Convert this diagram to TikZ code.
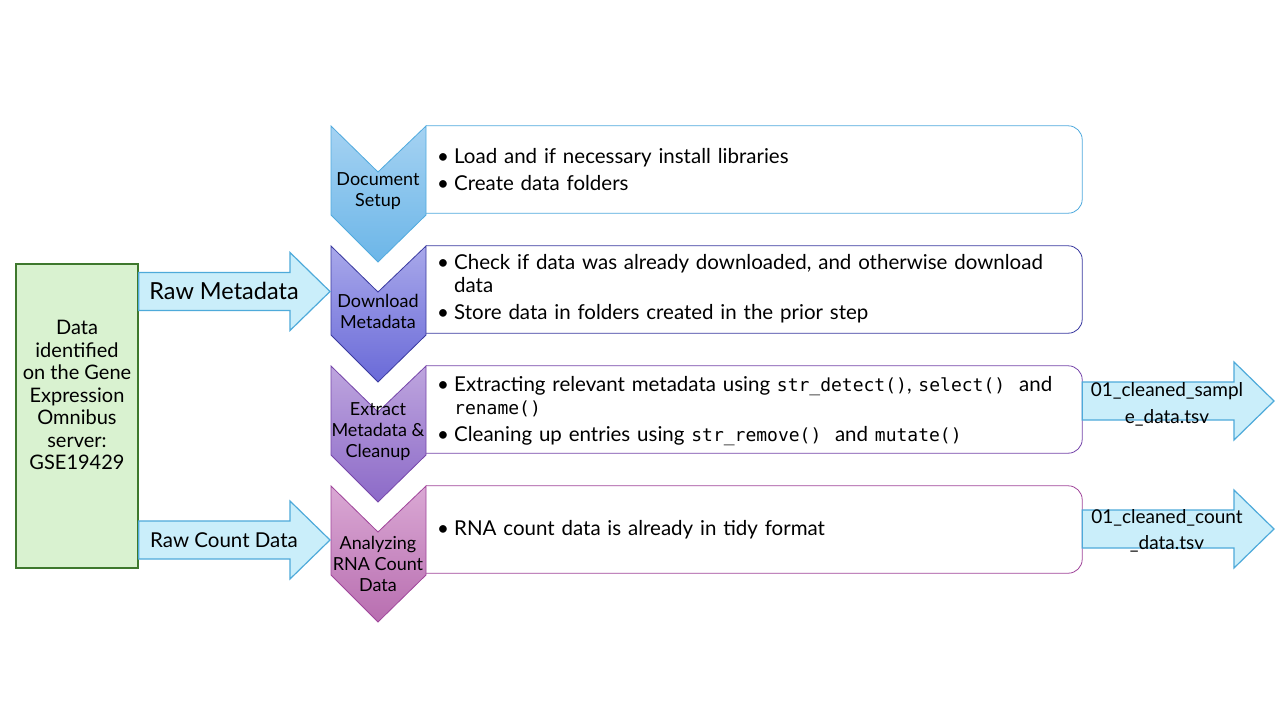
\documentclass[tikz,border=0pt]{standalone}
\usepackage{fontspec}
\setmainfont{Lato}
\setmonofont{DejaVu Sans Mono}
\usetikzlibrary{positioning,calc}
\definecolor{setuptop}{RGB}{165,210,242}
\definecolor{setupbot}{RGB}{108,182,232}
\definecolor{setupline}{RGB}{80,170,222}
\definecolor{loadtop}{RGB}{168,168,234}
\definecolor{loadbot}{RGB}{106,106,216}
\definecolor{loadline}{RGB}{58,58,160}
\definecolor{extracttop}{RGB}{190,165,222}
\definecolor{extractbot}{RGB}{140,106,200}
\definecolor{extractline}{RGB}{118,70,170}
\definecolor{counttop}{RGB}{218,168,212}
\definecolor{countbot}{RGB}{184,110,176}
\definecolor{countline}{RGB}{160,70,155}
\definecolor{arrowfill}{RGB}{202,238,250}
\definecolor{arrowline}{RGB}{78,170,218}
\definecolor{geofill}{RGB}{217,242,208}
\definecolor{geoline}{RGB}{62,120,45}
\newcommand{\bul}[1]{\par\noindent\hangindent=17pt\hangafter=1\makebox[17pt][l]{\textbullet}#1}
\newcommand{\code}[1]{{\ttfamily\fontsize{18}{23}\selectfont #1}}
\newcommand{\blockarrow}[2]{%
  \draw[blockarrow] ($(#1)+(0,-19)$) -- ($(#2)+(-40,-19)$) -- ($(#2)+(-40,-39)$) -- (#2)
    -- ($(#2)+(-40,39)$) -- ($(#2)+(-40,19)$) -- ($(#1)+(0,19)$) -- cycle;}
\tikzset{
  stepbox/.style={minimum width=656pt,minimum height=87pt,inner sep=0pt},
  boxline/.style={line width=0.8pt,rounded corners=14pt},
  bullets/.style={anchor=west,inner sep=0pt,text width=636pt,align=left,font=\fontsize{20.5}{23}\selectfont\setlength{\parskip}{4pt}},
  steplabel/.style={align=center,inner sep=0pt,font=\fontsize{18}{21}\selectfont},
  blockarrow/.style={draw=arrowline,fill=arrowfill,line width=1.2pt,line join=miter},
}

\begin{document}
\begin{tikzpicture}[x=1pt,y=-1pt]
\useasboundingbox (0,0) rectangle (1280,720);
\fill[white] (0,0) rectangle (1280,720);
% text boxes, left side hidden by the chevrons
\foreach \n/\y in {setup/126,load/246,extract/366,count/486}{
  \node[stepbox] (\n box) at (754,\y+43.5) {};
  \draw[boxline,draw=\n line] (\n box.north west) -- (\n box.north east) -- (\n box.south east) -- (\n box.south west);
}
% chevrons
\foreach \n/\y in {setup/126,load/246,extract/366,count/486}{
  \draw[draw=\n line,top color=\n top,bottom color=\n bot,line width=0.8pt]
    (331,\y) -- (378,\y+46) -- (426,\y) -- (426,\y+89) -- (378,\y+136) -- (331,\y+89) -- cycle;
}
\node[steplabel] (setuplbl) at (378,191) {Document\\Setup};
\node[steplabel] (loadlbl) at (378,311.5) {Download\\Metadata};
\node[steplabel] (extractlbl) at (378,432) {Extract\\Metadata \&\\Cleanup};
\node[steplabel] (countlbl) at (378,564) {Analyzing\\RNA Count\\Data};
% bullet texts
\node[bullets] (setuptxt) at (437,164) {\bul{Load and if necessary install libraries}\bul{Create data folders}};
\node[bullets] (loadtxt) at (437,283) {\bul{Check if data was already downloaded, and otherwise download\newline data}\bul{Store data in folders\ created in the prior step}};
\node[bullets] (extracttxt) at (437,405) {\bul{Extracting relevant metadata using \code{str\_detect()}, \code{select()}\hspace{14pt}and\newline \code{rename()}}\bul{Cleaning up entries using \code{str\_remove()}\ \ and \code{mutate()}}};
\node[bullets] (counttxt) at (437,523.5) {\bul{RNA count data is already in tidy format}};
% data source
\node[draw=geoline,fill=geofill,line width=1.5pt,minimum width=122pt,minimum height=304pt] (geo) at (77,416) {};
\node[align=center,inner sep=0pt,font=\fontsize{20}{22.5}\selectfont] (geotxt) at (77,395) {Data\\identified\\on the Gene\\Expression\\Omnibus\\server:\\GSE19429};
% block arrows
\coordinate (metatip) at (330,291.5);
\coordinate (rawtip) at (330,540);
\coordinate (sampletip) at (1274,401);
\coordinate (counttip) at (1274,529);
\blockarrow{geo.east |- metatip}{metatip}
\blockarrow{geo.east |- rawtip}{rawtip}
\blockarrow{extractbox.east |- sampletip}{sampletip}
\blockarrow{countbox.east |- counttip}{counttip}
\node[font=\fontsize{23.5}{26}\selectfont,inner sep=0pt] (metalbl) at (224,291) {Raw Metadata};
\node[font=\fontsize{20.5}{24}\selectfont,inner sep=0pt] (rawlbl) at (224,540) {Raw Count Data};
\node[align=center,inner sep=0pt,font=\fontsize{19}{27}\selectfont] (samplelbl) at (1167,404) {01\_cleaned\_sampl\\e\_data.tsv};
\node[align=center,inner sep=0pt,font=\fontsize{19}{26}\selectfont] (countfilelbl) at (1167,531) {01\_cleaned\_count\\\_data.tsv};
\end{tikzpicture}
\end{document}
